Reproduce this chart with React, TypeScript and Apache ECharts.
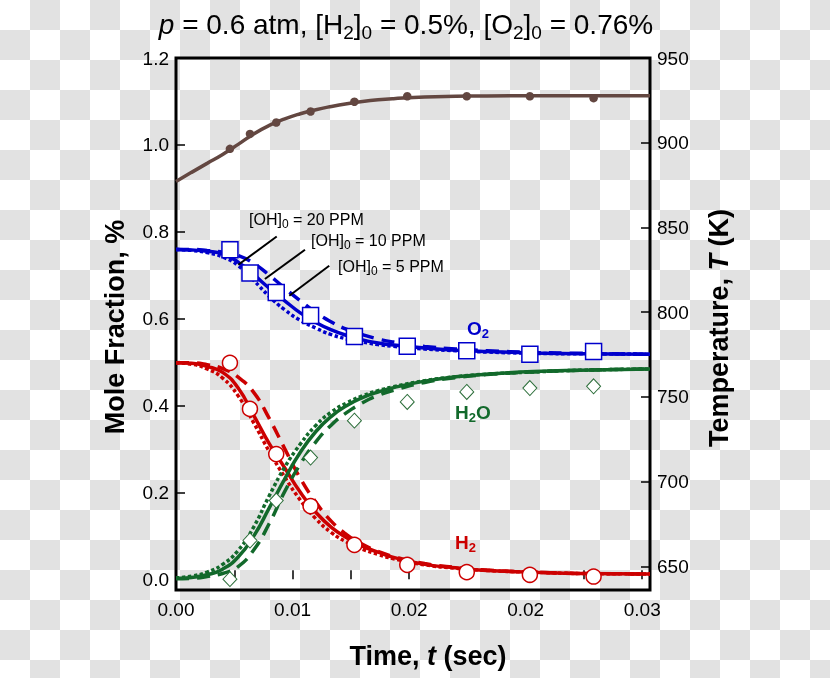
import React, { useEffect, useRef } from 'react';
import * as echarts from 'echarts';

// ---- Data ----
const modelTime = [0, 0.001, 0.002, 0.003, 0.004, 0.005, 0.006, 0.007, 0.008, 0.009, 0.010, 0.011, 0.012, 0.013, 0.014, 0.016, 0.018, 0.020, 0.023, 0.026, 0.0305];

// [OH]0 = 10 PPM (solid), 20 PPM (dotted), 5 PPM (dashed)
const o2_10 = [0.759, 0.758, 0.755, 0.749, 0.730, 0.701, 0.670, 0.641, 0.613, 0.591, 0.574, 0.561, 0.551, 0.544, 0.539, 0.532, 0.527, 0.524, 0.521, 0.519, 0.518];
const o2_20 = [0.759, 0.757, 0.752, 0.742, 0.722, 0.688, 0.651, 0.620, 0.596, 0.578, 0.563, 0.553, 0.546, 0.540, 0.536, 0.530, 0.526, 0.523, 0.520, 0.519, 0.518];
const o2_5 = [0.759, 0.759, 0.757, 0.753, 0.745, 0.727, 0.700, 0.670, 0.641, 0.614, 0.592, 0.575, 0.563, 0.553, 0.546, 0.536, 0.530, 0.526, 0.522, 0.520, 0.518];

const h2_10 = [0.498, 0.497, 0.490, 0.476, 0.440, 0.377, 0.312, 0.256, 0.200, 0.154, 0.119, 0.095, 0.076, 0.062, 0.050, 0.034, 0.026, 0.020, 0.016, 0.013, 0.012];
const h2_20 = [0.498, 0.495, 0.484, 0.463, 0.422, 0.360, 0.294, 0.235, 0.182, 0.139, 0.107, 0.085, 0.069, 0.057, 0.047, 0.033, 0.025, 0.020, 0.016, 0.013, 0.012];
const h2_5 = [0.498, 0.498, 0.494, 0.485, 0.465, 0.430, 0.370, 0.300, 0.232, 0.177, 0.133, 0.102, 0.080, 0.064, 0.052, 0.036, 0.027, 0.021, 0.016, 0.013, 0.012];

const h2o_10 = [0.002, 0.004, 0.010, 0.023, 0.051, 0.099, 0.164, 0.231, 0.292, 0.340, 0.375, 0.400, 0.418, 0.431, 0.441, 0.456, 0.466, 0.472, 0.478, 0.481, 0.484];
const h2o_20 = [0.003, 0.007, 0.016, 0.034, 0.066, 0.120, 0.192, 0.258, 0.311, 0.354, 0.385, 0.406, 0.422, 0.434, 0.443, 0.457, 0.466, 0.472, 0.477, 0.481, 0.484];
const h2o_5 = [0.001, 0.002, 0.006, 0.013, 0.029, 0.067, 0.128, 0.202, 0.265, 0.316, 0.355, 0.384, 0.406, 0.423, 0.435, 0.453, 0.464, 0.471, 0.477, 0.481, 0.484];

const tempModel = [877.1, 882.5, 887.8, 893.1, 899.0, 905.2, 910.2, 914.1, 917.1, 919.5, 921.4, 923.0, 924.3, 925.3, 926.0, 927.0, 927.4, 927.6, 927.7, 927.7, 927.7];

// Experimental points
const expTime = [0.00347, 0.00476, 0.00645, 0.00866, 0.01148, 0.01488, 0.01871, 0.02277, 0.02687];
const expO2 = [0.7585, 0.705, 0.660, 0.607, 0.559, 0.536, 0.526, 0.518, 0.524];
const expH2 = [0.498, 0.392, 0.288, 0.168, 0.079, 0.033, 0.016, 0.010, 0.006];
const expH2O = [0.0, 0.089, 0.181, 0.280, 0.365, 0.408, 0.431, 0.440, 0.444];
const expT = [896.4, 905.2, 911.9, 918.4, 924.2, 927.4, 927.4, 927.4, 926.3];

// Axes
const xTickValues = [0, 0.00375, 0.0075, 0.01125, 0.015, 0.01875, 0.0225, 0.02625, 0.03];
const xLabelValues = [0, 0.0075, 0.015, 0.0225, 0.03];
const xLabelTexts = ['0.00', '0.01', '0.02', '0.02', '0.03'];
const yLeftTicks = [0, 0.2, 0.4, 0.6, 0.8, 1.0, 1.2];
const yRightTicks = [650, 700, 750, 800, 850, 900, 950];

// Annotation leader lines in data coordinates [t, moleFraction]
const leaderLines = [
  [[0.00648, 0.789], [0.00401, 0.724]],
  [[0.00830, 0.7585], [0.00572, 0.691]],
  [[0.00986, 0.7217], [0.00729, 0.6526]],
];
const leaderTexts = ['20', '10', '5'];

const FONT = "'Liberation Sans', Arial, Helvetica, sans-serif";
const RED = '#cc0000';
const BLUE = '#0000cc';
const GREEN = '#12692b';
const BROWN = '#634741';

const zip = (xs: number[], ys: number[]) => xs.map((x, i) => [x, ys[i]]);

function lineSeries(name: string, ys: number[], color: string, kind: 'solid' | 'dashed' | 'dotted', extra: any = {}) {
  const type = kind === 'solid' ? 'solid' : kind === 'dashed' ? [13, 8] : [3.5, 2.5];
  return {
    name,
    type: 'line',
    data: zip(modelTime, ys),
    showSymbol: false,
    symbol: 'none',
    smooth: 0.5,
    lineStyle: { color, width: 3.5, type, cap: 'butt' },
    z: 2,
    silent: true,
    ...extra,
  };
}

function scatterSeries(name: string, ys: number[], symbol: string, size: any, border: string, bw: number, yAxisIndex = 0, fill = '#ffffff') {
  return {
    name,
    type: 'scatter',
    yAxisIndex,
    data: zip(expTime, ys),
    symbol,
    symbolSize: size,
    itemStyle: { color: fill, borderColor: border, borderWidth: bw, opacity: 1 },
    z: 5,
    silent: true,
  };
}

export default function App() {
  const ref = useRef<HTMLDivElement>(null);

  useEffect(() => {
    if (!ref.current) return;
    const chart = echarts.init(ref.current, undefined, { renderer: 'svg' });

    const sub = (size: number, color: string, weight = 'normal') => ({
      fontSize: size, lineHeight: size, verticalAlign: 'bottom', fontFamily: FONT, fill: color, fontWeight: weight,
    });

    const option: any = {
      animation: false,
      backgroundColor: 'transparent',
      grid: { left: 176, right: 180, top: 58, bottom: 88, show: true, borderColor: '#000', borderWidth: 3, backgroundColor: 'transparent' },
      xAxis: {
        type: 'value', min: 0, max: 0.0305,
        axisLine: { show: false },
        splitLine: { show: false },
        axisTick: { show: true, inside: true, length: 9, customValues: xTickValues, lineStyle: { color: '#000', width: 1.5 } },
        axisLabel: {
          customValues: xLabelValues, margin: 10, color: '#000', fontSize: 19, fontFamily: FONT,
          formatter: (v: number) => {
            let best = 0;
            xLabelValues.forEach((lv, i) => { if (Math.abs(lv - v) < Math.abs(xLabelValues[best] - v)) best = i; });
            return xLabelTexts[best];
          },
        },
      },
      yAxis: [
        {
          type: 'value', min: -0.025, max: 1.2, position: 'left',
          axisLine: { show: false }, splitLine: { show: false },
          axisTick: { show: true, inside: true, length: 9, customValues: yLeftTicks, lineStyle: { color: '#000', width: 1.5 } },
          axisLabel: { customValues: yLeftTicks, margin: 7, color: '#000', fontSize: 19, fontFamily: FONT, formatter: (v: number) => v.toFixed(1) },
        },
        {
          type: 'value', min: 636, max: 950, position: 'right',
          axisLine: { show: false }, splitLine: { show: false },
          axisTick: { show: true, inside: true, length: 9, customValues: yRightTicks, lineStyle: { color: '#000', width: 1.5 } },
          axisLabel: { customValues: yRightTicks, margin: 7, color: '#000', fontSize: 19, fontFamily: FONT, formatter: (v: number) => String(Math.round(v)) },
        },
      ],
      series: [
        lineSeries('O2 20ppm', o2_20, BLUE, 'dotted'),
        lineSeries('O2 5ppm', o2_5, BLUE, 'dashed'),
        lineSeries('O2 10ppm', o2_10, BLUE, 'solid', {
          markLine: {
            silent: true, symbol: ['none', 'none'], label: { show: false },
            lineStyle: { color: '#000', width: 2, type: 'solid' },
            emphasis: { disabled: true },
            data: leaderLines.map(([a, b]) => [{ coord: a }, { coord: b }]),
            z: 6,
          },
        }),
        lineSeries('H2 20ppm', h2_20, RED, 'dotted'),
        lineSeries('H2 5ppm', h2_5, RED, 'dashed'),
        lineSeries('H2 10ppm', h2_10, RED, 'solid'),
        lineSeries('H2O 20ppm', h2o_20, GREEN, 'dotted'),
        lineSeries('H2O 5ppm', h2o_5, GREEN, 'dashed'),
        lineSeries('H2O 10ppm', h2o_10, GREEN, 'solid'),
        lineSeries('T model', tempModel, BROWN, 'solid', { yAxisIndex: 1, lineStyle: { color: BROWN, width: 3.5 } }),
        scatterSeries('O2 exp', expO2, 'rect', 16, BLUE, 1.5),
        scatterSeries('H2 exp', expH2, 'circle', 15, RED, 1.5),
        scatterSeries('H2O exp', expH2O, 'diamond', [14, 15], '#2c6e3a', 1),
        scatterSeries('T exp', expT, 'circle', 8.5, BROWN, 0, 1, BROWN),
      ],
      graphic: [
        {
          type: 'text', x: 406, y: 24, silent: true,
          style: {
            text: '{i|p} = 0.6 atm, [H{s|2}]{s|0} = 0.5%, [O{s|2}]{s|0} = 0.76%',
            fontSize: 28, fontFamily: FONT, fill: '#000', align: 'center', verticalAlign: 'middle', lineHeight: 36,
            rich: {
              i: { fontSize: 28, lineHeight: 36, fontStyle: 'italic', fontFamily: FONT, fill: '#000' },
              s: sub(19, '#000'),
            },
          },
        },
        {
          type: 'text', x: 115, y: 327, rotation: Math.PI / 2, silent: true,
          style: { text: 'Mole Fraction, %', fontSize: 27, fontWeight: 'bold', fontFamily: FONT, fill: '#000', align: 'center', verticalAlign: 'middle' },
        },
        {
          type: 'text', x: 719, y: 328, rotation: Math.PI / 2, silent: true,
          style: {
            text: 'Temperature, {i|T} (K)', fontSize: 27, fontWeight: 'bold', fontFamily: FONT, fill: '#000', align: 'center', verticalAlign: 'middle',
            rich: { i: { fontSize: 27, fontWeight: 'bold', fontStyle: 'italic', fontFamily: FONT, fill: '#000' } },
          },
        },
        {
          type: 'text', x: 428, y: 656, silent: true,
          style: {
            text: 'Time, {i|t} (sec)', fontSize: 27, fontWeight: 'bold', fontFamily: FONT, fill: '#000', align: 'center', verticalAlign: 'middle',
            rich: { i: { fontSize: 27, fontWeight: 'bold', fontStyle: 'italic', fontFamily: FONT, fill: '#000' } },
          },
        },
        ...leaderTexts.map((ppm, i) => ({
          type: 'text', x: [249, 311, 338][i], y: [219, 240, 266][i], silent: true, z: 10,
          style: {
            text: `[OH]{s|0} = ${ppm} PPM`, fontSize: 16, fontFamily: FONT, fill: '#000', align: 'left', verticalAlign: 'middle', lineHeight: 21,
            rich: { s: sub(12, '#000') },
          },
        })),
        {
          type: 'text', x: 467, y: 328, silent: true,
          style: { text: 'O{s|2}', fontSize: 19, fontWeight: 'bold', fontFamily: FONT, fill: BLUE, align: 'left', verticalAlign: 'middle', lineHeight: 24, rich: { s: sub(13, BLUE, 'bold') } },
        },
        {
          type: 'text', x: 455, y: 412, silent: true,
          style: { text: 'H{s|2}O', fontSize: 19, fontWeight: 'bold', fontFamily: FONT, fill: GREEN, align: 'left', verticalAlign: 'middle', lineHeight: 24, rich: { s: sub(13, GREEN, 'bold') } },
        },
        {
          type: 'text', x: 455, y: 542, silent: true,
          style: { text: 'H{s|2}', fontSize: 19, fontWeight: 'bold', fontFamily: FONT, fill: RED, align: 'left', verticalAlign: 'middle', lineHeight: 24, rich: { s: sub(13, RED, 'bold') } },
        },
      ],
    };

    chart.setOption(option);
    return () => chart.dispose();
  }, []);

  return (
    <div
      style={{
        position: 'fixed', left: 0, top: 0, width: 830, height: 678,
        background: 'repeating-conic-gradient(#e2e2e2 0 25%, #ffffff 0 50%) 0 0 / 60px 60px',
      }}
    >
      <div ref={ref} style={{ width: 830, height: 678 }} />
    </div>
  );
}
